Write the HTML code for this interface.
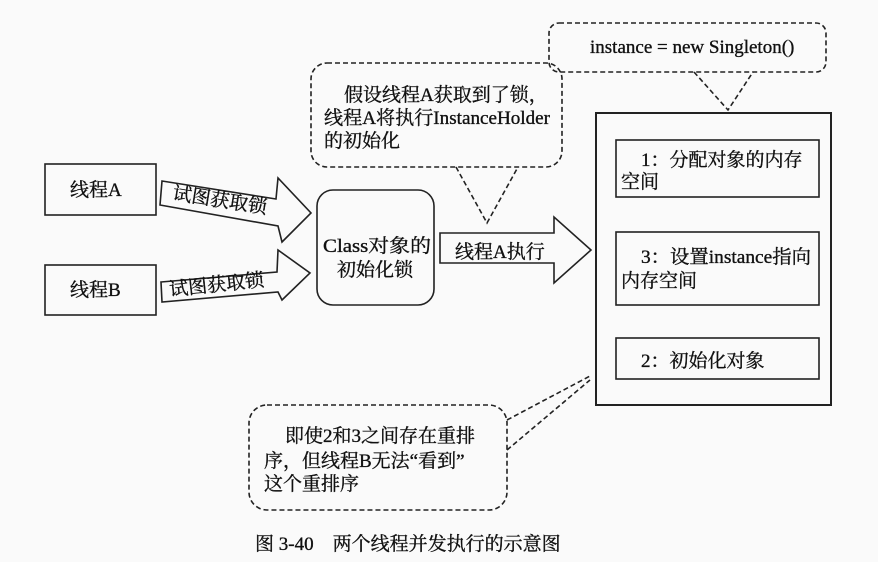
<!DOCTYPE html>
<html><head><meta charset="utf-8"><style>
html,body{margin:0;padding:0;background:#fafafa;}
svg{display:block;}
text{font-family:"Liberation Serif","Noto Serif CJK SC","Noto Sans CJK SC",serif;fill:#111;font-size:19px;stroke:#111;stroke-width:0.35;}
</style></head><body>
<svg width="878" height="562" viewBox="0 0 878 562" xmlns="http://www.w3.org/2000/svg">
<rect width="878" height="562" fill="#fafafa"/>
<g fill="none" stroke="#222" stroke-width="1.6">
<rect x="549" y="23" width="277" height="49" rx="10" stroke-dasharray="5,3"/>
<path d="M694 72 L728 110 L753 72" stroke-dasharray="5,3"/>
<rect x="311" y="63" width="251" height="104" rx="16" stroke-dasharray="5,3"/>
<path d="M456 167 L487 223 L518 167" stroke-dasharray="5,3"/>
<rect x="249" y="405" width="258" height="105" rx="18" stroke-dasharray="5,3"/>
<path d="M507 420 L590 376 M507 450 L590 380" stroke-dasharray="5,3"/>
<rect x="45" y="164" width="111" height="51"/>
<rect x="45" y="265" width="111" height="50"/>
<polygon points="162,181 276,199 278,178 311,213 282,242 278,226 160,205" fill="#fafafa"/>
<polygon points="161,282 277,272 278,250 310,273 282,300 278,292 162,302" fill="#fafafa"/>
<polygon points="440,233 554,233 554,217 591,250 554,283 554,263 440,263" fill="#fafafa"/>
<rect x="317" y="190" width="117" height="115" rx="16"/>
<rect x="596" y="113" width="235" height="292" stroke-width="2"/>
<rect x="616" y="140" width="203" height="57"/>
<rect x="616" y="232" width="203" height="73"/>
<rect x="616" y="338" width="203" height="41"/>
</g>
<text x="590" y="53" font-size="18">instance = new Singleton()</text>
<text x="344" y="101">假设线程A获取到了锁，</text>
<text x="324" y="124" textLength="226" lengthAdjust="spacingAndGlyphs">线程A将执行InstanceHolder</text>
<text x="324" y="147">的初始化</text>
<text x="70" y="196">线程A</text>
<text x="70" y="296">线程B</text>
<text x="172" y="199" transform="rotate(9 172 199)">试图获取锁</text>
<text x="170" y="296" transform="rotate(-6 170 296)">试图获取锁</text>
<text x="323" y="252" textLength="108" lengthAdjust="spacingAndGlyphs">Class对象的</text>
<text x="337" y="276">初始化锁</text>
<text x="455" y="258">线程A执行</text>
<text x="641" y="166">1：分配对象的内存</text>
<text x="621" y="188">空间</text>
<text x="641" y="263" textLength="170" lengthAdjust="spacingAndGlyphs">3：设置instance指向</text>
<text x="621" y="287">内存空间</text>
<text x="641" y="367">2：初始化对象</text>
<text x="285" y="442">即使2和3之间存在重排</text>
<text x="264" y="467">序，但线程B无法“看到”</text>
<text x="264" y="490">这个重排序</text>
<text x="255" y="550" font-size="20" stroke-width="0.2">图 3-40　两个线程并发执行的示意图</text>
</svg>
</body></html>
